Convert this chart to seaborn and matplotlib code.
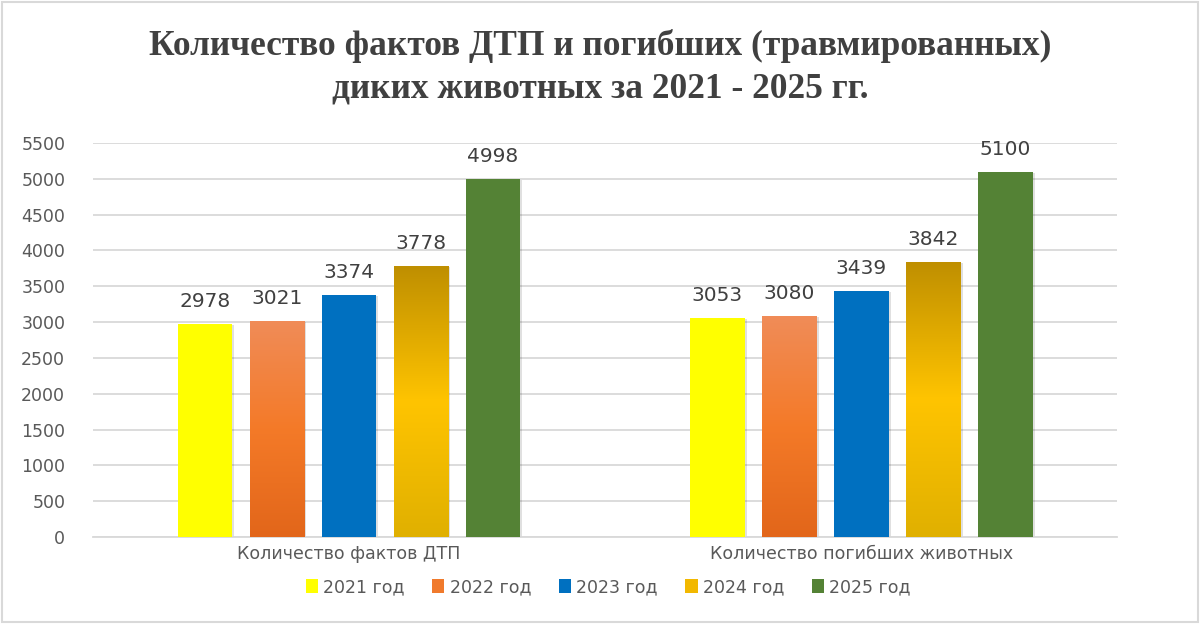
import numpy as np
import pandas as pd
import matplotlib
matplotlib.use("Agg")
import matplotlib.pyplot as plt
import seaborn as sns
from matplotlib.colors import LinearSegmentedColormap

categories = ["Количество фактов ДТП", "Количество погибших животных"]
years = ["2021 год", "2022 год", "2023 год", "2024 год", "2025 год"]
values_dtp = [2978, 3021, 3374, 3778, 4998]
values_animals = [3053, 3080, 3439, 3842, 5100]
colors = ["#FFFF00", "#F07A2C", "#0070C0", "#F2B800", "#548235"]
# vertical gradients (top -> bottom) for two of the series
gradients = {
    "2022 год": ["#F08C58", "#F47A28", "#E2661A"],
    "2024 год": ["#BF8F00", "#FFC400", "#E0B000"],
}

rows = []
for cat, vals in zip(categories, [values_dtp, values_animals]):
    for y, v in zip(years, vals):
        rows.append({"cat": cat, "year": y, "value": v})
df = pd.DataFrame(rows)

sns.set_style("white")
plt.rcParams['font.family'] = ['DejaVu Sans']

fig = plt.figure(figsize=(12, 6.24), dpi=100)
ax = fig.add_axes([0.0775, 0.1394, 0.8535, 0.6314])

sns.barplot(data=df, x="cat", y="value", hue="year", palette=colors,
            saturation=1, width=0.703, gap=0.24, ax=ax, legend=True, zorder=3,
            edgecolor="none", linewidth=0)

ax.set_ylim(0, 5500)
ax.set_xlim(-0.5, 1.5)
ax.set_yticks(np.arange(0, 5501, 500))
ax.yaxis.grid(True, color="#D9D9D9", linewidth=1.3, zorder=0)
ax.set_axisbelow(True)
for s in ["top", "right", "left"]:
    ax.spines[s].set_visible(False)
ax.spines["bottom"].set_color("#D9D9D9")
ax.spines["bottom"].set_linewidth(1.3)
ax.tick_params(axis="y", length=0, pad=20, labelsize=12.5, labelcolor="#595959")
ax.tick_params(axis="x", length=0, pad=6, labelsize=12.5, labelcolor="#595959")
ax.set_xlabel("")
ax.set_ylabel("")

# gradient fills + shadows + value labels
for container, year in zip(ax.containers, years):
    for bar in container:
        x0, w, h = bar.get_x(), bar.get_width(), bar.get_height()
        shadow = plt.Rectangle((x0 + 0.004, 0), w, h - 15, color="#000000",
                               alpha=0.12, zorder=2, linewidth=0)
        ax.add_patch(shadow)
        if year in gradients:
            cmap = LinearSegmentedColormap.from_list(year, gradients[year])
            grad = np.linspace(0, 1, 256).reshape(-1, 1)
            im = ax.imshow(grad, cmap=cmap, aspect="auto", origin="upper",
                           extent=(x0, x0 + w, 0, h), zorder=4)
            im.set_clip_path(bar)
        ax.text(x0 + w / 2, h + 180, f"{int(h)}", ha="center", va="bottom",
                fontsize=14.5, color="#404040", zorder=5)
ax.set_xlim(-0.5, 1.5)
ax.set_ylim(0, 5500)

leg = ax.legend(loc="upper center", bbox_to_anchor=(0.503, -0.065), ncol=5,
                frameon=False, fontsize=12.5, handlelength=0.7, handleheight=0.9,
                handletextpad=0.3, columnspacing=1.6)
for t in leg.get_texts():
    t.set_color("#595959")

fig.text(0.5, 0.927, "Количество фактов ДТП и погибших (травмированных)",
         ha="center", va="center", fontsize=25.5, fontweight="bold",
         family=['Liberation Serif', 'DejaVu Serif'], color="#404040")
fig.text(0.5, 0.858, "диких животных за 2021 - 2025 гг.",
         ha="center", va="center", fontsize=25.5, fontweight="bold",
         family=['Liberation Serif', 'DejaVu Serif'], color="#404040")

fig.patches.append(plt.Rectangle((0.002, 0.003), 0.996, 0.994, transform=fig.transFigure,
                                 fill=False, edgecolor="#D9D9D9", linewidth=1.5))

fig.savefig("out.png", dpi=100, facecolor="white")
